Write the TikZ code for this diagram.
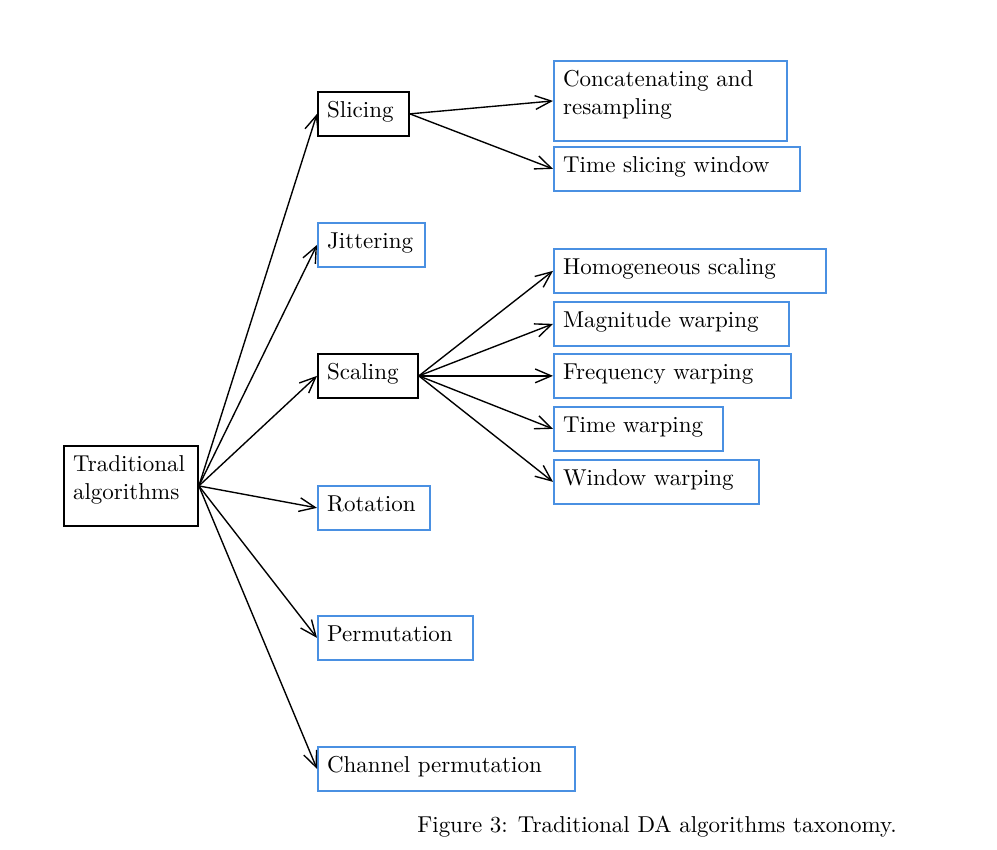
\documentclass[tikz,border=0pt]{standalone}
\usepackage{tikz}
\usetikzlibrary{arrows.meta}
\definecolor{leafblue}{RGB}{74,144,226}
\tikzset{
  box/.style={draw,line width=0.8pt,anchor=north west,align=left,inner sep=4pt,
    text height=7.3pt,text depth=3.8pt},
  leaf/.style={box,draw=leafblue},
  tallbox/.style={text depth=19.5pt},
  link/.style={line width=0.6pt,-{Straight Barb[length=7pt,width=6pt]}}
}

\begin{document}
\begin{tikzpicture}[x=0.01529cm,y=-0.01529cm]
        \useasboundingbox (0,0) rectangle (997,850);

        % Root
        \node[box,tallbox,text width=50.3pt] (trad) at (63,445) {Traditional\\algorithms};

        % First level
        \node[box,text width=31.6pt] (slicing) at (317,91) {Slicing};
        \node[leaf,text width=38.5pt] (jitter) at (317,222) {Jittering};
        \node[box,text width=35.5pt] (scaling) at (317,353) {Scaling};
        \node[leaf,text width=40.7pt] (rotation) at (317,485) {Rotation};
        \node[leaf,text width=59.4pt] (perm) at (317,615) {Permutation};
        \node[leaf,text width=103.7pt] (chperm) at (317,746) {Channel permutation};

        % Slicing methods
        \node[leaf,tallbox,text width=93.3pt] (concat) at (553,60) {Concatenating and\\resampling};
        \node[leaf,text width=99pt] (tsw) at (553,146) {Time slicing window};

        % Scaling methods
        \node[leaf,text width=110.3pt] (homog) at (553,248) {Homogeneous scaling};
        \node[leaf,text width=94.2pt] (magw) at (553,301) {Magnitude warping};
        \node[leaf,text width=95pt] (freqw) at (553,353) {Frequency warping};
        \node[leaf,text width=65.5pt] (timew) at (553,406) {Time warping};
        \node[leaf,text width=81.1pt] (winw) at (553,459) {Window warping};

        % Links from the root
        \foreach \n in {slicing,jitter,scaling,rotation,perm,chperm}
          \draw[link] (trad.east) -- (\n.west);

        % Links from Slicing
        \foreach \n in {concat,tsw}
          \draw[link] (slicing.east) -- (\n.west);

        % Links from Scaling
        \foreach \n in {homog,magw,freqw,timew,winw}
          \draw[link] (scaling.east) -- (\n.west);

        % Caption
        \node (caption) at (657,827) {Figure 3: Traditional DA algorithms taxonomy.};
    \end{tikzpicture}
\end{document}
